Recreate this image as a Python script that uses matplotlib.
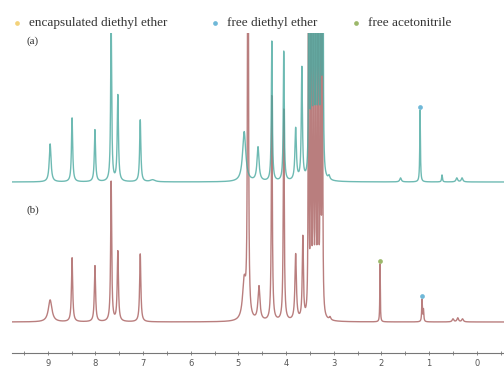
import numpy as np
import matplotlib.pyplot as plt
from matplotlib.lines import Line2D
from matplotlib.ticker import MultipleLocator

# Peak lists: position (ppm), height, half width (ppm)
# spectrum (a): teal, spectrum (b): red
a_ppm = [8.95, 8.49, 8.01, 7.67, 7.53, 7.06, 6.80, 4.88, 4.59, 4.30, 4.05, 3.80, 3.67,
         3.52, 3.47, 3.42, 3.37, 3.32, 3.27, 3.23, 3.10, 1.60, 1.19, 0.73, 0.42, 0.31]
a_height = [38, 64, 52, 160, 86, 62, 2, 50, 34, 140, 130, 52, 112,
            600, 600, 600, 600, 600, 600, 600, 4, 4, 72, 7, 4, 4]
a_width = [0.022, 0.015, 0.015, 0.013, 0.015, 0.015, 0.06, 0.04, 0.025, 0.012, 0.012, 0.018, 0.014,
           0.006, 0.006, 0.006, 0.006, 0.006, 0.006, 0.006, 0.02, 0.02, 0.008, 0.01, 0.02, 0.02]

b_ppm = [8.95, 8.49, 8.01, 7.67, 7.53, 7.06, 4.88, 4.80, 4.57, 4.30, 4.05, 3.80, 3.65,
         3.53, 3.48, 3.43, 3.38, 3.33, 3.28, 3.24, 3.08, 2.03, 1.15, 1.12, 0.50, 0.40, 0.30]
b_height = [22, 64, 56, 140, 70, 68, 38, 700, 34, 225, 212, 66, 82,
            600, 600, 600, 600, 600, 600, 600, 3, 58, 22, 12, 3, 4, 3]
b_width = [0.045, 0.015, 0.015, 0.013, 0.015, 0.015, 0.04, 0.009, 0.025, 0.012, 0.012, 0.018, 0.014,
           0.006, 0.006, 0.006, 0.006, 0.006, 0.006, 0.006, 0.02, 0.006, 0.008, 0.009, 0.02, 0.02, 0.02]

a_offset = 140

# markers above assigned peaks: (ppm, spectrum, legend index)
marks = [(1.19, 'a', 1), (2.03, 'b', 2), (1.15, 'b', 1)]

legend_labels = ['encapsulated diethyl ether', 'free diethyl ether', 'free acetonitrile']
legend_colors = ['#f3d27a', '#6fb8d8', '#9cb86a']


def spectrum(x, ppm, height, width):
    y = np.zeros_like(x)
    for p, h, w in zip(ppm, height, width):
        y += h * w**2 / ((x - p)**2 + w**2)
    return y


x = np.linspace(9.8, -0.6, 8000)
ya = spectrum(x, a_ppm, a_height, a_width) + a_offset
yb = spectrum(x, b_ppm, b_height, b_width)

fig = plt.figure(figsize=(5.04, 3.69), dpi=100)
ax = fig.add_axes([12/504, 16/369, 492/504, 320/369])
ax.plot(x, yb, color='#a85e5e', lw=1.0, alpha=0.8)
ax.plot(x, ya, color='#4aa9a0', lw=1.0, alpha=0.8)

for p, s, k in marks:
    yy = ya if s == 'a' else yb
    near = np.abs(x - p) < 0.03
    ax.plot(p, yy[near].max() + 3, 'o', ms=3.4, color=legend_colors[k], mec='none')

ax.set_xlim(9.75, -0.57)
ax.set_ylim(-31, 289)
for sp in ['left', 'right', 'top']:
    ax.spines[sp].set_visible(False)
ax.spines['bottom'].set_color('#777777')
ax.spines['bottom'].set_linewidth(0.8)
ax.set_yticks([])
ax.xaxis.set_minor_locator(MultipleLocator(0.5))
ax.set_xticks(np.arange(0, 10))
ax.set_xticklabels([str(i) for i in range(0, 10)])
ax.tick_params(axis='x', which='both', direction='inout', length=3, width=0.6,
               color='#777777', labelsize=6, labelcolor='#555555', pad=3)

ax.text(15/504, 1 - (36-33)/320, '(a)', transform=ax.transAxes, fontsize=8,
        family='Liberation Serif', color='#333333', va='top')
ax.text(15/504, 1 - (205-33)/320, '(b)', transform=ax.transAxes, fontsize=8,
        family='Liberation Serif', color='#333333', va='top')

# legend row at the top
dot_x = [17, 215, 356]
for px, lab, c in zip(dot_x, legend_labels, legend_colors):
    fig.add_artist(Line2D([px/504], [1 - 23/369], marker='o', ms=3.4, color=c,
                          mec='none', transform=fig.transFigure))
    fig.text((px + 12)/504, 1 - 23/369, lab, fontsize=9.5, family='Liberation Serif',
             color='#333333', va='center')

fig.savefig('out.png', dpi=100)
